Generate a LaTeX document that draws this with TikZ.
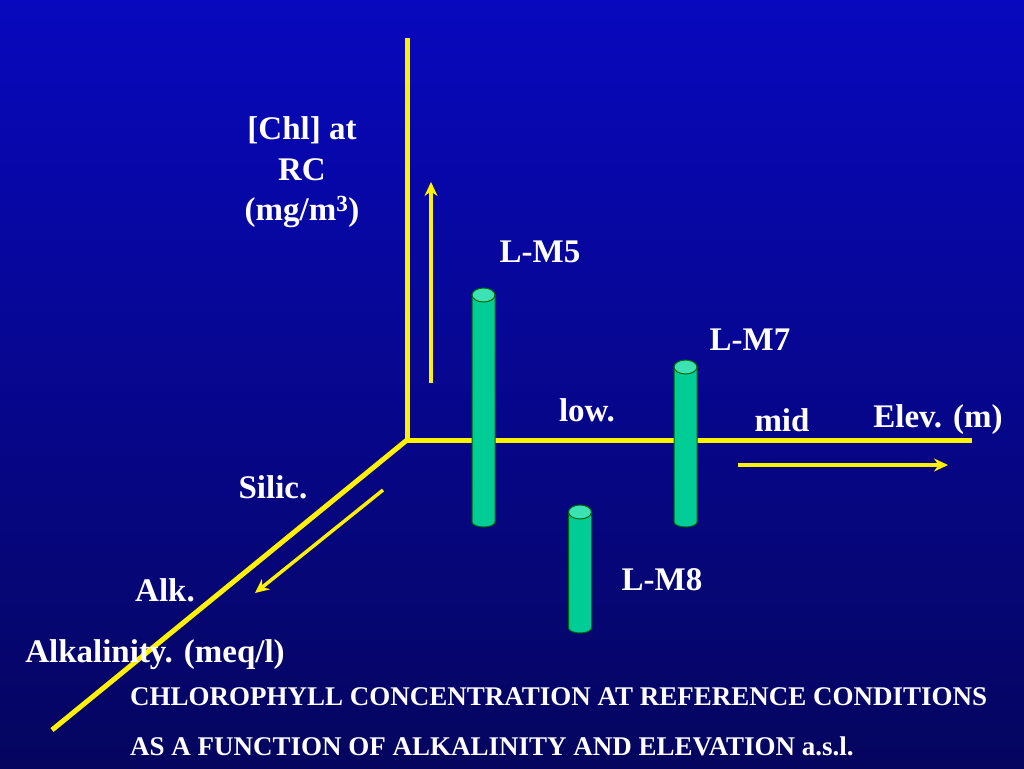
\documentclass[tikz,border=0pt]{standalone}
\usepackage{fontspec}
\usetikzlibrary{arrows.meta}
\setmainfont{Liberation Serif}
\definecolor{cylc}{RGB}{0,204,150}
\definecolor{cyltop}{RGB}{60,225,180}
\begin{document}
\begin{tikzpicture}[x=1pt,y=-1pt,
  ax/.style={draw=yellow,line width=5pt},
  arr/.style={draw=yellow,line width=3.5pt,-{Stealth[length=14pt,width=13pt]}},
  lab/.style={text=white,font=\bfseries\fontsize{33}{38}\selectfont,inner sep=0pt},
  foot/.style={text=white,font=\bfseries\fontsize{27}{30}\selectfont,inner sep=0pt,anchor=west},
  cyl/.style={fill=cylc,draw=black!60!green,line width=1pt}]
\useasboundingbox (0,0) rectangle (1024,768);
\shade[top color={rgb,255:red,8;green,8;blue,190},bottom color={rgb,255:red,5;green,5;blue,95}] (0,0) rectangle (1024,768);
\coordinate (o) at (407,440);
\coordinate (yt) at (407,38);
\coordinate (xe) at (972,440);
\coordinate (ze) at (52,730);
\draw[ax] (o) -- (yt);
\draw[ax] (o) -- (xe);
\draw[ax] (o) -- (ze);
\coordinate (a1) at (431,383); \coordinate (a2) at (431,182);
\coordinate (b1) at (738,465); \coordinate (b2) at (948,465);
\coordinate (c1) at (383,490); \coordinate (c2) at (255,593);
\draw[arr] (a1) -- (a2);
\draw[arr] (b1) -- (b2);
\draw[arr] (c1) -- (c2);
\foreach \cx/\ty/\by in {483.5/295/522, 685.5/367/522, 580/512/628}{
  \fill[cyl] (\cx-11.5,\ty) -- (\cx-11.5,\by) arc[start angle=180,end angle=360,x radius=11.5,y radius=-5] -- (\cx+11.5,\ty) -- cycle;
  \draw[cyl,fill=cyltop] (\cx,\ty) ellipse[x radius=11.5,y radius=7];
}
\node[lab] (chl1) at (302,130) {[Chl] at};
\node[lab] (chl2) at (302,170) {RC};
\node[lab] (chl3) at (302,212) {(mg/m\textsuperscript{3})};
\node[lab] (m5) at (540,252) {L-M5};
\node[lab] (m7) at (750,340) {L-M7};
\node[lab] (low) at (587,410) {low.};
\node[lab] (mid) at (782,420) {mid};
\node[lab] (elev) at (938,420) {Elev. (m)};
\node[lab] (sil) at (273,487) {Silic.};
\node[lab] (alk) at (165,590) {Alk.};
\node[lab] (m8) at (662,580) {L-M8};
\node[lab] (alkal) at (155,655) {Alkalinity. (meq/l)};
\node[foot] (f1) at (130,697) {CHLOROPHYLL CONCENTRATION AT REFERENCE CONDITIONS};
\node[foot] (f2) at (130,746) {AS A FUNCTION OF ALKALINITY AND ELEVATION a.s.l.};
\end{tikzpicture}
\end{document}
